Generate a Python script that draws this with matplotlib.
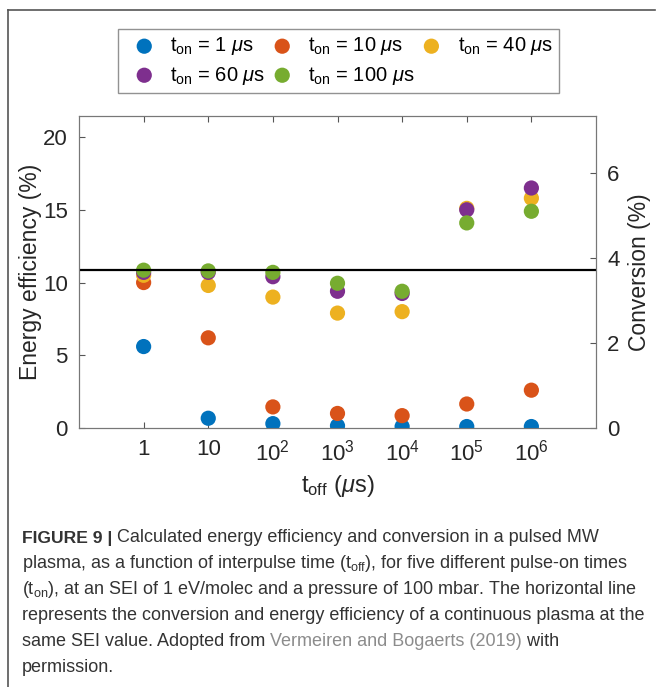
import numpy as np
import matplotlib
matplotlib.use("Agg")
from matplotlib import pyplot as plt
from matplotlib.lines import Line2D

plt.rcParams['font.family'] = ['Liberation Sans', 'DejaVu Sans']
plt.rcParams['mathtext.fontset'] = 'custom'
plt.rcParams['mathtext.rm'] = 'Liberation Sans'
plt.rcParams['mathtext.it'] = 'Liberation Sans:italic'
plt.rcParams['mathtext.bf'] = 'Liberation Sans:bold'

# data
t_off = [1, 10, 1e2, 1e3, 1e4, 1e5, 1e6]
ton_labels = ['1', '10', '40', '60', '100']
ee_ton1 = [5.6, 0.67, 0.3, 0.15, 0.1, 0.1, 0.1]
ee_ton10 = [10.0, 6.2, 1.45, 1.0, 0.85, 1.65, 2.6]
ee_ton40 = [10.5, 9.8, 9.0, 7.9, 8.0, 15.1, 15.8]
ee_ton60 = [10.7, 10.7, 10.4, 9.4, 9.25, 15.0, 16.5]
ee_ton100 = [10.85, 10.8, 10.7, 9.95, 9.4, 14.1, 14.9]
continuous_ee = 10.85
colors = ['#0072BD', '#D95319', '#EDB120', '#7E2F8E', '#77AC30']
xtick_labels = ['1', '10', r'$10^2$', r'$10^3$', r'$10^4$', r'$10^5$', r'$10^6$']

fig = plt.figure(figsize=(6.57, 6.87), dpi=100)
W, H = 657, 687

# outer frame of the figure panel
fig.add_artist(Line2D([8 / W, 8 / W], [0, 1 - 10 / H], color='#555555', lw=1.2))
fig.add_artist(Line2D([8 / W, 655 / W], [1 - 10 / H, 1 - 10 / H], color='#555555', lw=1.2))

ax = fig.add_axes([79 / W, 1 - 428 / H, (596 - 79) / W, (428 - 116) / H])
series = [ee_ton1, ee_ton10, ee_ton40, ee_ton60, ee_ton100]
handles = []
for vals, c, lab in zip(series, colors, ton_labels):
    h = ax.scatter(t_off, vals, s=120, color=c, edgecolors='none', zorder=3,
                   label=r'$\mathregular{t_{on}}$ = ' + lab + r' $\mu$s')
    handles.append(h)
ax.axhline(continuous_ee, color='black', lw=1.6, zorder=4)

ax.set_xscale('log')
ax.set_xlim(1e-1, 1e7)
ax.set_ylim(0, 21.45)
ax.set_xticks(t_off)
ax.set_xticklabels(xtick_labels)
ax.minorticks_off()
ax.set_yticks([0, 5, 10, 15, 20])
ax.tick_params(direction='in', labelsize=16, colors='#555555', labelcolor='#262626',
               top=True, length=4, pad=8)
ax.set_xlabel(r'$\mathregular{t_{off}}$ ($\mu$s)', fontsize=17, color='#262626', labelpad=6)
ax.set_ylabel('Energy efficiency (%)', fontsize=16.5, color='#262626', labelpad=1)
for sp in ax.spines.values():
    sp.set_color('#777777')

ax2 = ax.twinx()
ax2.set_ylim(0, 7.34)
ax2.set_yticks([0, 2, 4, 6])
ax2.tick_params(direction='in', labelsize=16, colors='#555555', labelcolor='#262626',
                length=4, pad=8)
ax2.set_ylabel('Conversion (%)', fontsize=16.5, color='#262626', labelpad=6)
for sp in ax2.spines.values():
    sp.set_color('#777777')

# legend laid out row-wise like the original
order = [0, 3, 1, 4, 2]
leg = fig.legend([handles[i] for i in order], [handles[i].get_label() for i in order],
                 ncol=3, loc='center', mode='expand',
                 bbox_to_anchor=(108 / W, 1 - 95 / H, (569 - 108) / W, 68 / H),
                 fontsize=14.5, frameon=True, fancybox=False, edgecolor='#777777',
                 handletextpad=0.3, columnspacing=1.0, labelspacing=0.35,
                 borderpad=0.3, scatterpoints=1)
leg.get_frame().set_linewidth(1.0)

# caption
cap_color = '#333333'
cap_size = 13.0
x0 = 22 / W
ys = [538, 564, 590, 615, 641, 667]
r = fig.canvas.get_renderer()

tb = fig.text(x0, 1 - ys[0] / H, 'FIGURE 9 |', fontsize=12.6, weight='bold',
              color=cap_color, va='center', ha='left')
bb0 = tb.get_window_extent(r)
fig.text(bb0.x1 / W, 1 - ys[0] / H, ' Calculated energy efficiency and conversion in a pulsed MW',
         fontsize=cap_size, color=cap_color, va='center', ha='left')

lines = [
    r'plasma, as a function of interpulse time (t$_{\mathregular{off}}$), for five different pulse-on times',
    r'(t$_{\mathregular{on}}$), at an SEI of 1 eV/molec and a pressure of 100 mbar. The horizontal line',
    'represents the conversion and energy efficiency of a continuous plasma at the',
]
for txt, y in zip(lines, ys[1:4]):
    fig.text(x0, 1 - y / H, txt, fontsize=cap_size, color=cap_color, va='center', ha='left')

t1 = fig.text(x0, 1 - ys[4] / H, 'same SEI value. Adopted from ', fontsize=cap_size,
              color=cap_color, va='center', ha='left')
bb = t1.get_window_extent(r)
t2 = fig.text(bb.x1 / W, 1 - ys[4] / H, 'Vermeiren and Bogaerts (2019)', fontsize=cap_size,
              color='#8c8c8c', va='center', ha='left')
bb2 = t2.get_window_extent(r)
fig.text(bb2.x1 / W, 1 - ys[4] / H, ' with', fontsize=cap_size, color=cap_color,
         va='center', ha='left')
fig.text(x0, 1 - ys[5] / H, 'permission.', fontsize=cap_size, color=cap_color,
         va='center', ha='left')

fig.savefig('out.png', dpi=100)
